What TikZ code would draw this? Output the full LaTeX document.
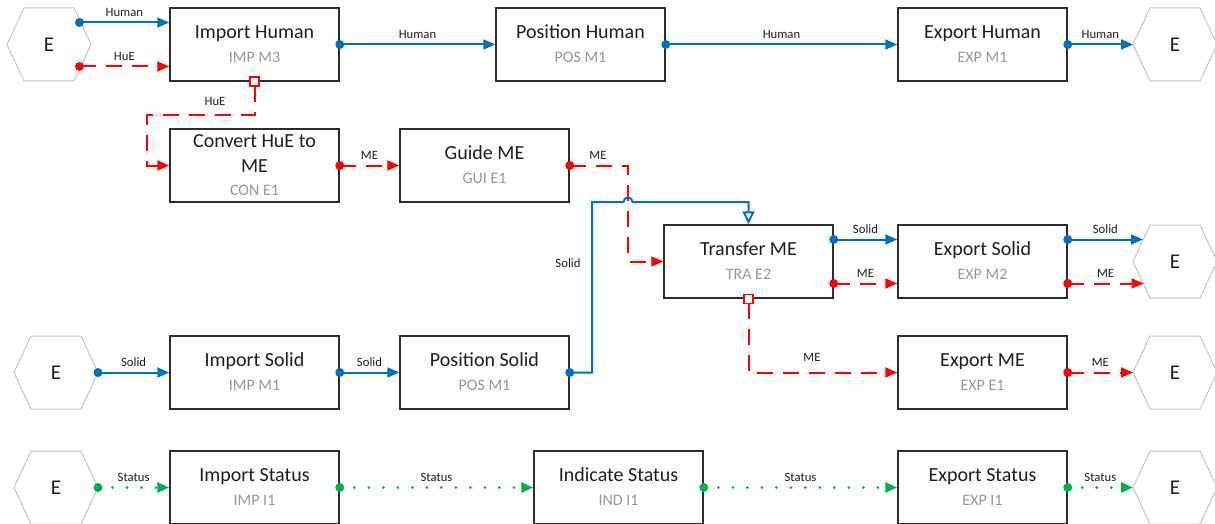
\documentclass[tikz,border=0pt]{standalone}
\usepackage{fontspec}
\setmainfont{Carlito}
\usetikzlibrary{arrows.meta,calc}
\definecolor{cblue}{RGB}{0,112,192}
\definecolor{cred}{RGB}{255,0,0}
\definecolor{cgreen}{RGB}{0,176,80}
\definecolor{csub}{RGB}{150,150,150}
\definecolor{chex}{RGB}{195,195,195}
\definecolor{cbox}{RGB}{45,45,45}
\definecolor{ctxt}{RGB}{30,30,30}
\tikzset{
 pbox/.style={draw=cbox, line width=1.5pt, minimum width=169pt, minimum height=73pt, inner sep=0pt},
 ptitle/.style={anchor=base, inner sep=0pt, text=ctxt, font=\fontsize{20}{24}\selectfont},
 psub/.style={anchor=base, inner sep=0pt, text=csub, font=\fontsize{16}{19}\selectfont},
 hexlbl/.style={inner sep=0pt, text=ctxt, font=\fontsize{21}{25}\selectfont},
 hexline/.style={draw=chex, line width=1pt},
 lbl/.style={anchor=base, inner sep=0pt, yshift=6pt, text=ctxt, font=\fontsize{12.7}{15}\selectfont},
 lblat/.style={anchor=base, inner sep=0pt, text=ctxt, font=\fontsize{12.7}{15}\selectfont},
 bl/.style={draw=cblue, line width=2pt, -{Triangle[length=12pt,width=10pt]}},
 rd/.style={draw=cred, line width=2pt, dash pattern=on 16pt off 10pt, -{Triangle[length=12pt,width=10pt]}},
 gr/.style={draw=cgreen, line width=3pt, line cap=round, dash pattern=on 0pt off 14.5pt, -{Triangle[length=12pt,width=10pt]}},
 port/.style={draw=cred, line width=1.5pt, fill=white, minimum size=9pt, inner sep=0pt},
}
\newcommand\myhex[3]{%
 \node[hexlbl] (#1) at (#2,#3) {E};
 \coordinate (#1-w) at ($(#1)+(-42,0)$);
 \coordinate (#1-e) at ($(#1)+(42,0)$);
 \draw[hexline] (#1-w) -- ++(17,-36.5) -- ++(50,0) -- (#1-e) -- ++(-17,36.5) -- ++(-50,0) -- cycle;}
\newcommand\procbox[5]{%
 \node[pbox] (#1) at (#2,#3) {};
 \node[ptitle] (#1-t) at ($(#1)+(0,-6)$) {#4};
 \node[psub] (#1-s) at ($(#1)+(0,18)$) {#5};}
\begin{document}
\begin{tikzpicture}[x=1pt,y=-1pt]
\useasboundingbox (0,0) rectangle (1215,524);
% process boxes
\procbox{ih}{254.5}{44.5}{Import Human}{IMP M3}
\procbox{ph}{580.5}{44.5}{Position Human}{POS M1}
\procbox{eh}{982.5}{44.5}{Export Human}{EXP M1}
\node[pbox] (cv) at (254.5,165.5) {};
\node[ptitle] (cv-t1) at ($(cv)+(0,-18.5)$) {Convert HuE to};
\node[ptitle] (cv-t2) at ($(cv)+(0,6.5)$) {ME};
\node[psub] (cv-s) at ($(cv)+(0,29.5)$) {CON E1};
\procbox{gm}{484.5}{165.5}{Guide ME}{GUI E1}
\procbox{tr}{748.5}{261.5}{Transfer ME}{TRA E2}
\procbox{es}{982.5}{261.5}{Export Solid}{EXP M2}
\procbox{is}{254.5}{372.5}{Import Solid}{IMP M1}
\procbox{ps}{484.5}{372.5}{Position Solid}{POS M1}
\procbox{em}{982.5}{372.5}{Export ME}{EXP E1}
\procbox{ist}{254.5}{487.5}{Import Status}{IMP I1}
\procbox{ind}{618.5}{487.5}{Indicate Status}{IND I1}
\procbox{est}{982.5}{487.5}{Export Status}{EXP I1}
% external hexagons
\myhex{h1}{49}{44.5}
\myhex{h2}{56}{372.5}
\myhex{h3}{56}{487.5}
\myhex{r1}{1175}{44.5}
\myhex{r2}{1175}{261.5}
\myhex{r3}{1175}{372.5}
\myhex{r4}{1175}{487.5}
% coordinates
\coordinate (h1a) at (79.5,22.5);
\coordinate (h1b) at (79.5,66.5);
\coordinate (hueb) at (147,115);
\coordinate (gmb) at (628,261.5);
\coordinate (j1) at (623.5,202);
\coordinate (j2) at (632.5,202);
\coordinate (j0) at (592,202);
\coordinate (tr1) at ($(tr.east)+(0,-22)$);
\coordinate (tr2) at ($(tr.east)+(0,22)$);
\coordinate (es1) at ($(es.east)+(0,-22)$);
\coordinate (es2) at ($(es.east)+(0,22)$);
\coordinate (r2a) at (1143,239.5);
\coordinate (r2b) at (1143.5,283.5);
% top row
\draw[bl] (h1a) -- node[lbl] (L1) {Human} (ih.west |- h1a);
\draw[rd] (h1b) -- node[lbl] (L2) {HuE} (ih.west |- h1b);
\draw[bl] (ih.east) -- node[lbl] (L3) {Human} (ph.west);
\draw[bl] (ph.east) -- node[lbl] (L4) {Human} (eh.west);
\draw[bl] (eh.east) -- node[lbl] (L5) {Human} (r1-w);
% HuE to convert
\draw[rd] ($(ih.south)+(0,4.5)$) |- (hueb) |- (cv.west);
\node[port] (ihp) at (ih.south) {};
\node[lblat] (L6) at (215,106) {HuE};
\draw[rd] (cv.east) -- node[lbl] (L7) {ME} (gm.west);
\draw[rd] (gm.east) -| (gmb) -- (tr.west);
\node[lbl] (L8) at (598,165.5) {ME};
% solid into transfer
\draw[bl, -{Triangle[open,length=13pt,width=12pt]}] (ps.east) -| (j0) -- (j1) .. controls ($(j1)+(0,-6)$) and ($(j2)+(0,-6)$) .. (j2) -| (tr.north);
\node[lblat] (L9) at (568,267) {Solid};
\draw[bl] (tr1) -- node[lbl] (L10) {Solid} (es.west |- tr1);
\draw[rd] (tr2) -- node[lbl] (L11) {ME} (es.west |- tr2);
\draw[bl] (es1) -- node[lbl] (L12) {Solid} (r2a);
\draw[rd] (es2) -- node[lbl] (L13) {ME} (r2b);
\draw[rd] ($(tr.south)+(0,4.5)$) |- (em.west);
\node[port] (trp) at (tr.south) {};
\node[lblat] (L14) at (812,361) {ME};
\draw[rd] (em.east) -- node[lbl] (L15) {ME} (r3-w);
\draw[bl] (h2-e) -- node[lbl] (L16) {Solid} (is.west);
\draw[bl] (is.east) -- node[lbl] (L17) {Solid} (ps.west);
% status row
\draw[gr] (h3-e) -- node[lbl] (L18) {Status} (ist.west);
\draw[gr] (ist.east) -- node[lbl] (L19) {Status} (ind.west);
\draw[gr] (ind.east) -- node[lbl] (L20) {Status} (est.west);
\draw[gr] (est.east) -- node[lbl] (L21) {Status} (r4-w);
% source dots
\foreach \p in {h1a,ih.east,ph.east,eh.east,ps.east,tr1,es1,h2-e,is.east}
  \fill[cblue] (\p) circle (4.5pt);
\foreach \p in {h1b,cv.east,gm.east,tr2,es2,em.east}
  \fill[cred] (\p) circle (4.5pt);
\foreach \p in {h3-e,ist.east,ind.east,est.east}
  \fill[cgreen] (\p) circle (4.5pt);
\end{tikzpicture}
\end{document}
